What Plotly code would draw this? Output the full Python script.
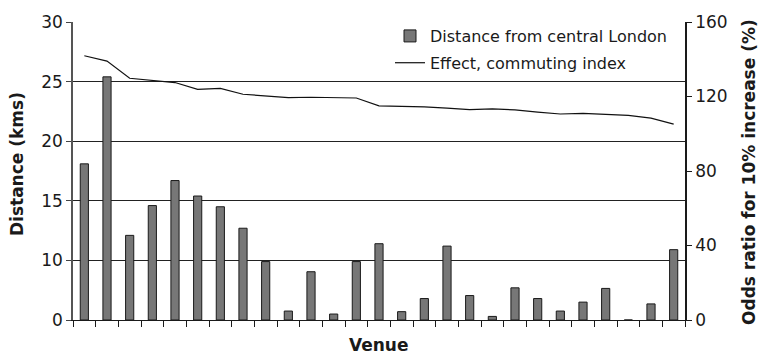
import numpy as np
import plotly.graph_objects as go

venues = list(range(1, 28))
distance_km = [18.1, 25.4, 12.1, 14.6, 16.7, 15.4, 14.5, 12.7, 9.8, 1.5,
               8.1, 1.0, 9.8, 11.4, 1.4, 3.6, 11.2, 4.1, 0.6, 5.4,
               3.6, 1.5, 3.0, 5.3, 0.0, 2.7, 10.9]
effect_pct = [141.9, 139.0, 129.8, 128.7, 127.5, 123.8, 124.4, 121.2, 120.3, 119.4,
              119.6, 119.3, 119.2, 115.0, 114.9, 114.4, 113.8, 112.9, 113.4, 112.8,
              111.6, 110.6, 110.9, 110.4, 109.9, 108.4, 105.2]

left_tick_labels = [0, 10, 15, 20, 25, 30]
right_tick_vals = [0, 40, 80, 120, 160]

# the original's left axis shows equally spaced labels 0,10,15,20,25,30
left_pos = [0, 5, 10, 15, 20, 25]
bar_y = np.interp(distance_km, left_tick_labels, left_pos)

FONT = "DejaVu Sans, Liberation Sans, Arial, sans-serif"
INK = "#1a1a1a"

W, H = 759, 356
L, R, T, B = 73, 74, 20, 36
PW = W - L - R
PH = H - T - B

def px_to_paper_x(px):
    return (px - L) / PW

def px_to_paper_y(py):
    return (H - B - py) / PH

fig = go.Figure()
fig.add_trace(go.Bar(
    x=venues, y=bar_y, width=0.36, name="Distance from central London",
    legendgroup="a",
    marker=dict(color="#777777", line=dict(color="#1a1a1a", width=1)),
    customdata=distance_km, hovertemplate="%{customdata} km<extra></extra>",
))
fig.add_trace(go.Scatter(
    x=venues, y=effect_pct, yaxis="y2", mode="lines", legendgroup="b",
    name="Effect, commuting index", line=dict(color="#111111", width=1.2),
))

fig.update_layout(
    width=W, height=H,
    margin=dict(l=L, r=R, t=T, b=B),
    paper_bgcolor="white", plot_bgcolor="white",
    font=dict(family=FONT, size=17, color=INK),
    showlegend=True,
    legend=dict(x=px_to_paper_x(390), y=1.01, xanchor="left", yanchor="top",
                bgcolor="rgba(255,255,255,0)", font=dict(size=16, color=INK),
                itemwidth=30, tracegroupgap=3),
    xaxis=dict(range=[0.5, 27.5], tickmode="linear", tick0=0.5, dtick=1,
               showticklabels=False, ticks="outside", ticklen=6,
               tickcolor=INK, showgrid=False, showline=True,
               linecolor=INK, linewidth=1, zeroline=False),
    yaxis=dict(range=[0, 25], tickvals=left_pos,
               ticktext=[str(v) for v in left_tick_labels],
               ticks="outside", ticklen=5, tickcolor="#444",
               showline=True, linecolor="#555", linewidth=1.5,
               showgrid=True, gridcolor="#222", gridwidth=1, zeroline=False),
    yaxis2=dict(range=[0, 160], tickvals=right_tick_vals, overlaying="y",
                side="right", ticks="outside", ticklen=5, tickcolor=INK,
                showline=True, linecolor=INK, linewidth=1.5,
                showgrid=False, zeroline=False),
    annotations=[
        dict(text="<b>Distance (kms)</b>", xref="paper", yref="paper",
             x=px_to_paper_x(17), y=px_to_paper_y(163), textangle=-90, showarrow=False,
             xanchor="center", yanchor="middle", font=dict(size=17)),
        dict(text="<b>Odds ratio for 10% increase (%)</b>", xref="paper", yref="paper",
             x=px_to_paper_x(749), y=px_to_paper_y(171), textangle=-90, showarrow=False,
             xanchor="center", yanchor="middle", font=dict(size=17)),
        dict(text="<b>Venue</b>", xref="paper", yref="paper",
             x=0.5, y=px_to_paper_y(345), showarrow=False,
             xanchor="center", yanchor="middle", font=dict(size=17)),
    ],
)

fig.write_html(
    "out.html",
    config={"displayModeBar": False},
    post_script="document.body.style.margin='0';document.body.style.overflow='hidden';",
)
